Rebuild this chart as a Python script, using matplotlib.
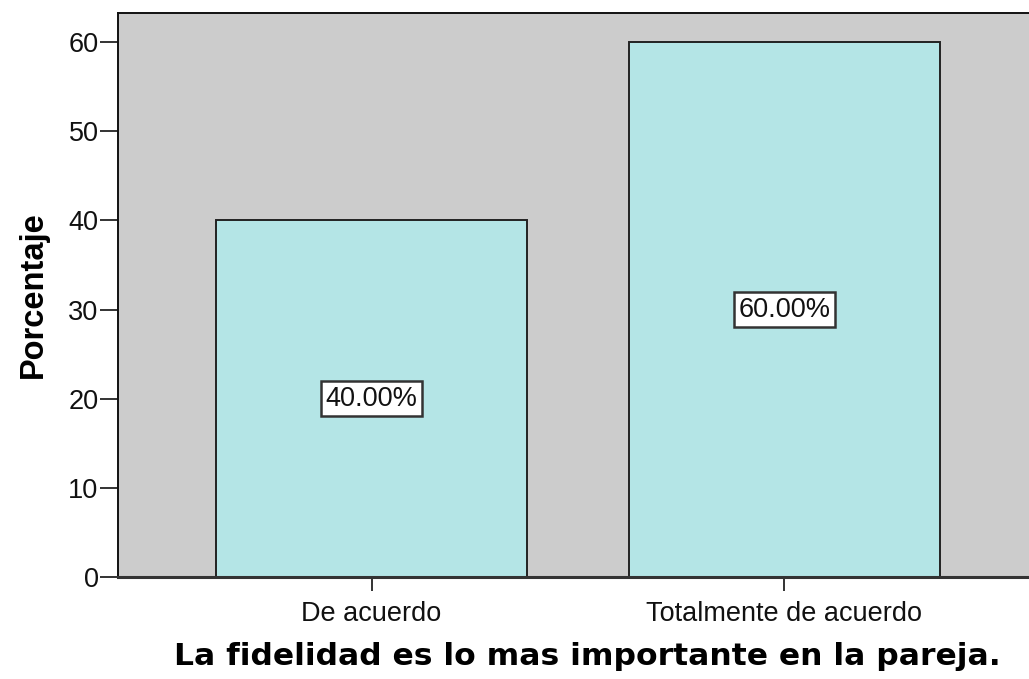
import matplotlib.pyplot as plt
import numpy as np

# data
categories = ["De acuerdo", "Totalmente de acuerdo"]
percentages = [40.0, 60.0]
yticks = [0, 10, 20, 30, 40, 50, 60]

plt.rcParams['font.family'] = ['Liberation Sans', 'DejaVu Sans']

fig = plt.figure(figsize=(10.29, 6.79), dpi=100)
ax = fig.add_axes([0.1147, 0.1502, 0.894, 0.8306])
ax.set_facecolor("#cccccc")

x = np.arange(len(categories))
bars = ax.bar(x, percentages, width=0.753, color="#b4e5e6",
              edgecolor="#222222", linewidth=1.4, zorder=2)

for b, v in zip(bars, percentages):
    ax.text(b.get_x() + b.get_width() / 2, v / 2, f"{v:.2f}%",
            ha="center", va="center", fontsize=19.5, color="#111111",
            bbox=dict(boxstyle="square,pad=0.16", fc="white",
                      ec="#333333", lw=1.8), zorder=3)

ax.set_xlim(-0.614, 1.614)
ax.set_ylim(0, 63.25)
ax.set_xticks(x)
ax.set_xticklabels(categories, fontsize=19.5, color="#111111")
ax.set_yticks(yticks)
ax.set_yticklabels([str(t) for t in yticks], fontsize=19.5, color="#111111")
ax.tick_params(axis="y", length=13, width=1.4, pad=1, color="#333333")
ax.tick_params(axis="x", length=10, width=1.4, pad=7, color="#333333")

for s in ["left", "top", "right"]:
    ax.spines[s].set_linewidth(1.4)
    ax.spines[s].set_color("#111111")
ax.spines["bottom"].set_linewidth(2.2)
ax.spines["bottom"].set_color("#333333")

ax.set_ylabel("Porcentaje", fontsize=23.5, fontweight="bold", labelpad=14)
ax.set_xlabel("La fidelidad es lo mas importante en la pareja.",
              fontsize=22.6, fontweight="bold", family="DejaVu Sans", labelpad=11)
ax.xaxis.label.set_x(0.51)

fig.savefig("out.png", dpi=100)
